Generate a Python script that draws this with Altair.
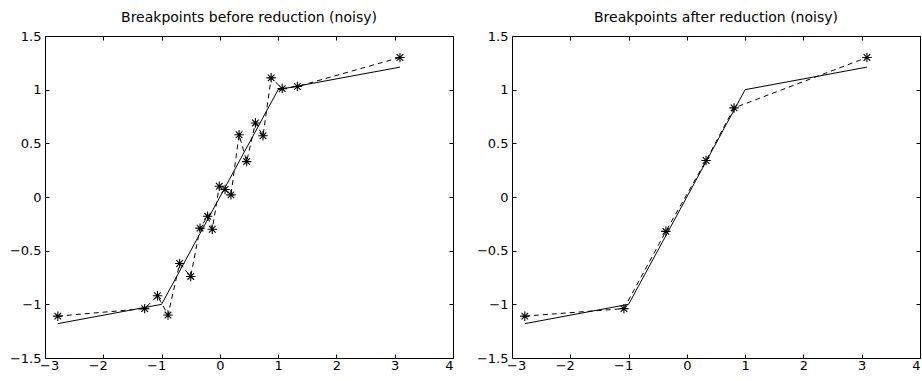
import altair as alt
import pandas as pd

# Underlying piecewise-linear function (solid line)
true_x = [-2.78, -1.0, 1.0, 3.09]
true_y = [-1.18, -1.0, 1.0, 1.21]

# Noisy breakpoints before reduction
before_x = [-2.78, -1.29, -1.07, -0.89, -0.69, -0.50, -0.34, -0.21, -0.13, -0.01,
            0.09, 0.19, 0.33, 0.46, 0.61, 0.74, 0.88, 1.07, 1.33, 3.09]
before_y = [-1.11, -1.04, -0.92, -1.10, -0.62, -0.74, -0.29, -0.18, -0.30, 0.10,
            0.07, 0.02, 0.58, 0.33, 0.69, 0.57, 1.11, 1.01, 1.03, 1.30]

# Breakpoints left after reduction
after_x = [-2.78, -1.08, -0.36, 0.33, 0.81, 3.09]
after_y = [-1.11, -1.04, -0.32, 0.34, 0.83, 1.30]

x_ticks = [-3, -2, -1, 0, 1, 2, 3, 4]
y_ticks = [-1.5, -1, -0.5, 0, 0.5, 1, 1.5]

FONT = "DejaVu Sans"
STAR = "M-1,0L1,0M0,-1L0,1M-0.7,-0.7L0.7,0.7M-0.7,0.7L0.7,-0.7"

x_scale = alt.Scale(domain=[-3, 4], nice=False, zero=False)
y_scale = alt.Scale(domain=[-1.5, 1.5], nice=False, zero=False)

common_axis = dict(grid=False, domain=False, ticks=True, tickSize=4, offset=-4,
                   tickColor="black", tickWidth=1, title=None,
                   labelFont=FONT, labelFontSize=13, labelColor="black")


def panel(title, px, py):
    true_df = pd.DataFrame({"x": true_x, "y": true_y})
    pts_df = pd.DataFrame({"x": px, "y": py, "order": list(range(len(px)))})

    solid = alt.Chart(true_df).mark_line(color="black", strokeWidth=1).encode(
        x=alt.X("x:Q", scale=x_scale,
                axis=alt.Axis(orient="bottom", values=x_ticks, format="~g",
                              labelPadding=1,
                              # keep the digits centred under the tick, minus sign hangs left
                              labelOffset=alt.condition("datum.value < 0",
                                                        alt.value(-5.5), alt.value(0)),
                              **common_axis)),
        y=alt.Y("y:Q", scale=y_scale,
                axis=alt.Axis(orient="left", values=y_ticks, format="~g",
                              labelPadding=4, **common_axis)),
    )
    dashed = alt.Chart(pts_df).mark_line(color="black", strokeWidth=1,
                                         strokeDash=[5, 4]).encode(
        x=alt.X("x:Q", scale=x_scale,
                axis=alt.Axis(orient="top", values=x_ticks, labels=False,
                              **common_axis)),
        y=alt.Y("y:Q", scale=y_scale,
                axis=alt.Axis(orient="right", values=y_ticks, labels=False,
                              **common_axis)),
        order="order:Q",
    )
    stars = alt.Chart(pts_df).mark_point(shape=STAR, filled=False, stroke="black",
                                         strokeWidth=1.1, size=90, opacity=1).encode(
        x=alt.X("x:Q", scale=x_scale, axis=None),
        y=alt.Y("y:Q", scale=y_scale, axis=None),
    )
    return alt.layer(solid, dashed, stars).resolve_axis(
        x="independent", y="independent"
    ).properties(
        width=408, height=322,
        title=alt.TitleParams(title, font=FONT, fontSize=14, fontWeight="normal",
                              color="black", offset=5, anchor="middle"),
    )


chart = alt.hconcat(
    panel("Breakpoints before reduction (noisy)", before_x, before_y),
    panel("Breakpoints after reduction (noisy)", after_x, after_y),
    spacing=59,
    bounds="flush",
).properties(
    padding={"left": 8, "top": 10, "right": 0, "bottom": 0},
    background="white",
).configure_view(stroke="black", strokeWidth=1)

chart.save("out.html", embed_options={"renderer": "svg", "actions": False})
